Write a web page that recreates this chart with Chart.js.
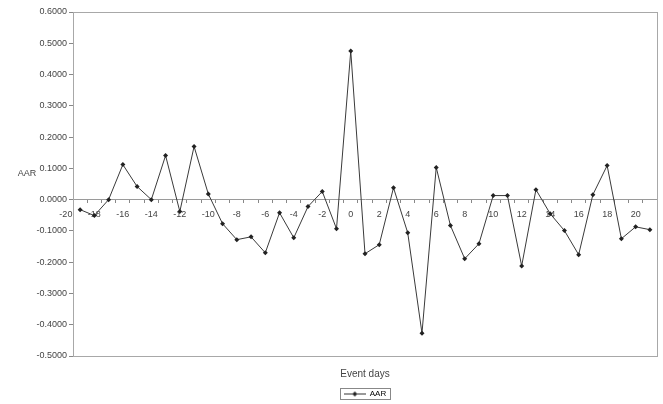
<!DOCTYPE html>
<html>
<head>
<meta charset="utf-8">
<script src="https://cdn.jsdelivr.net/npm/chart.js@4/dist/chart.umd.min.js"></script>
<style>
  html, body { margin: 0; padding: 0; background: #fff; }
  #wrap { width: 663px; height: 404px; }
</style>
</head>
<body>
<div id="wrap"><canvas id="c" width="663" height="404"></canvas></div>
<script>
// ---- data ----
const days = [-19,-18,-17,-16,-15,-14,-13,-12,-11,-10,-9,-8,-7,-6,-5,-4,-3,-2,-1,0,1,2,3,4,5,6,7,8,9,10,11,12,13,14,15,16,17,18,19,20,21];
const aar  = [-0.032,-0.051,0.000,0.112,0.042,0.000,0.141,-0.038,0.170,0.018,-0.077,-0.128,-0.119,-0.170,-0.042,-0.122,-0.022,0.026,-0.093,0.475,-0.173,-0.144,0.038,-0.106,-0.427,0.103,-0.083,-0.189,-0.141,0.013,0.013,-0.212,0.032,-0.045,-0.099,-0.176,0.016,0.109,-0.125,-0.087,-0.096];
const xTickDays = [-20,-19,-18,-17,-16,-15,-14,-13,-12,-11,-10,-9,-8,-7,-6,-5,-4,-3,-2,-1,0,1,2,3,4,5,6,7,8,9,10,11,12,13,14,15,16,17,18,19,20,21];
const yTickValues = [-0.5,-0.4,-0.3,-0.2,-0.1,0,0.1,0.2,0.3,0.4,0.5,0.6];
const seriesName = 'AAR';
const xTitle = 'Event days';
const yTitle = 'AAR';

const TEXT = '#444';
const FONT = "'Liberation Sans', Arial, sans-serif";

// legend symbol: line with marker
const sym = document.createElement('canvas');
sym.width = 22; sym.height = 7;
(function(){
  const g = sym.getContext('2d');
  g.strokeStyle = '#333'; g.lineWidth = 1;
  g.beginPath(); g.moveTo(0, 3.5); g.lineTo(22, 3.5); g.stroke();
  g.fillStyle = '#222';
  g.beginPath(); g.moveTo(11, 1); g.lineTo(13.5, 3.5); g.lineTo(11, 6); g.lineTo(8.5, 3.5); g.closePath(); g.fill();
})();

const framePlugin = {
  id: 'frame',
  beforeDatasetsDraw(chart) {
    const a = chart.chartArea, ctx = chart.ctx;
    ctx.save();
    ctx.strokeStyle = '#a8a8a8';
    ctx.lineWidth = 1;
    ctx.strokeRect(Math.round(a.left) + 0.5, Math.round(a.top) + 0.5, Math.round(a.right - a.left), Math.round(a.bottom - a.top));
    ctx.restore();
  },
  afterDraw(chart) {
    const ctx = chart.ctx;
    const ys = chart.scales.y;
    ctx.save();
    ctx.fillStyle = TEXT;
    ctx.font = "9px " + FONT;
    ctx.textAlign = 'center';
    ctx.textBaseline = 'middle';
    ctx.fillText(yTitle, 27, ys.getPixelForValue(0.085));
    const lg = chart.legend;
    if (lg && lg.legendHitBoxes && lg.legendHitBoxes.length) {
      const b = lg.legendHitBoxes[0];
      ctx.strokeStyle = '#888';
      ctx.lineWidth = 1;
      ctx.strokeRect(Math.round(b.left - 4) + 0.5, Math.round(b.top - 2) + 0.5, Math.round(b.width + 8), Math.round(b.height + 3));
    }
    ctx.restore();
  }
};

new Chart(document.getElementById('c'), {
  type: 'line',
  data: {
    datasets: [{
      label: seriesName,
      data: days.map((d, i) => ({ x: d, y: aar[i] })),
      borderColor: '#3a3a3a',
      borderWidth: 1,
      pointStyle: 'rectRot',
      pointRadius: 2.5,
      pointBackgroundColor: '#222',
      pointBorderColor: '#222',
      pointBorderWidth: 0,
      tension: 0,
      fill: false
    }]
  },
  options: {
    responsive: false,
    animation: false,
    devicePixelRatio: 1,
    layout: { padding: { top: 12, right: 6, left: 0, bottom: -4 } },
    scales: {
      x: {
        type: 'linear',
        position: { y: 0 },
        min: -19.5,
        max: 21.5,
        afterBuildTicks(scale) { scale.ticks = xTickDays.map(v => ({ value: v })); },
        grid: {
          display: true,
          drawOnChartArea: false,
          drawTicks: true,
          tickLength: 3,
          offset: true,
          tickColor: (ctx) => (ctx.index === 0 ? 'rgba(0,0,0,0)' : '#888')
        },
        border: { display: true, color: '#9a9a9a', width: 1 },
        ticks: {
          autoSkip: false,
          maxRotation: 0,
          minRotation: 0,
          padding: 6,
          color: TEXT,
          font: { size: 9, family: FONT },
          callback: (v) => (v % 2 === 0 ? String(v) : '')
        }
      },
      y: {
        type: 'linear',
        min: -0.5,
        max: 0.6,
        afterBuildTicks(scale) { scale.ticks = yTickValues.map(v => ({ value: v })); },
        afterFit(scale) { scale.width = 73; },
        grid: {
          display: true,
          drawOnChartArea: false,
          drawTicks: true,
          tickLength: 4,
          tickColor: '#888'
        },
        border: { display: true, color: '#888', width: 1 },
        ticks: {
          padding: 2,
          color: TEXT,
          font: { size: 9, family: FONT },
          callback: (v) => Number(v).toFixed(4)
        }
      }
    },
    plugins: {
      title: {
        display: true,
        position: 'bottom',
        fullSize: false,
        text: xTitle,
        weight: 500,
        color: TEXT,
        font: { size: 10, weight: 'normal', family: FONT },
        padding: { top: 12, bottom: 6 }
      },
      legend: {
        display: true,
        position: 'bottom',
        fullSize: false,
        weight: 1000,
        labels: {
          usePointStyle: true,
          pointStyleWidth: 22,
          boxHeight: 7,
          padding: 4,
          color: TEXT,
          font: { size: 8, family: FONT },
          generateLabels: (chart) => [{
            text: seriesName,
            pointStyle: sym,
            fillStyle: '#222',
            strokeStyle: '#333',
            lineWidth: 0,
            datasetIndex: 0,
            hidden: false
          }]
        }
      },
      tooltip: { enabled: false }
    }
  },
  plugins: [framePlugin]
});
</script>
</body>
</html>
